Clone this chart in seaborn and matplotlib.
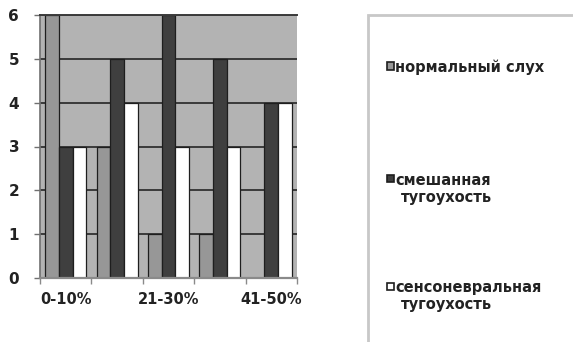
import matplotlib
matplotlib.use("Agg")
import matplotlib.pyplot as plt
from matplotlib.patches import Rectangle
import seaborn as sns
import pandas as pd

# Hearing-loss grade groups and number of cases per hearing status
categories = ["0-10%", "11-20%", "21-30%", "31-40%", "41-50%"]
normal = [6, 3, 1, 1, 0]
mixed = [3, 5, 6, 5, 4]
sensorineural = [3, 4, 3, 3, 4]

series_names = ["нормальный слух", "смешанная тугоухость", "сенсоневральная тугоухость"]
legend_lines = [["нормальный слух"], ["смешанная", "тугоухость"], ["сенсоневральная", "тугоухость"]]
colors = ["#979797", "#3f3f3f", "#ffffff"]

df = pd.DataFrame({
    "group": categories * 3,
    "count": normal + mixed + sensorineural,
    "status": [series_names[0]] * 5 + [series_names[1]] * 5 + [series_names[2]] * 5,
})

sns.set_theme(style="white")
plt.rcParams["font.family"] = ["DejaVu Sans"]

fig = plt.figure(figsize=(5.73, 3.42), dpi=100)
ax = fig.add_axes([40 / 573, 1 - 278 / 342, 257 / 573, 263 / 342])
ax.set_facecolor("#b3b3b3")

palette = dict(zip(series_names, colors))
sns.barplot(data=df, x="group", y="count", hue="status", order=categories,
            hue_order=series_names, palette=palette, width=0.8,
            edgecolor="#1e1e1e", linewidth=0.9, saturation=1, legend=False, ax=ax)

ax.set_ylim(0, 6)
ax.set_xlim(-0.5, len(categories) - 0.5)
ax.set_axisbelow(True)
ax.yaxis.grid(True, color="#3a3a3a", linewidth=1.4)
ax.xaxis.grid(False)

ax.set_yticks(range(0, 7))
ax.set_yticklabels([str(v) for v in range(0, 7)], fontsize=11, fontweight="bold",
                   color="#222222")
ax.tick_params(axis="y", left=True, length=4, width=1, color="#707070", pad=11)

# Only every other group label fits under the axis
ax.set_xticks(range(len(categories)))
ax.set_xticklabels([c if i % 2 == 0 else "" for i, c in enumerate(categories)],
                   fontsize=10.5, fontweight="bold", color="#222222")
ax.set_xticks([i - 0.5 for i in range(len(categories) + 1)], minor=True)
ax.tick_params(axis="x", which="major", length=0, pad=10)
ax.tick_params(axis="x", which="minor", bottom=True, length=4, width=1, color="#8a8a8a")
ax.set_xlabel("")
ax.set_ylabel("")

ax.spines["right"].set_visible(False)
ax.spines["top"].set_color("#3a3a3a")
ax.spines["top"].set_linewidth(1.4)
ax.spines["left"].set_color("#707070")
ax.spines["bottom"].set_color("#8a8a8a")
ax.spines["left"].set_linewidth(1.2)
ax.spines["bottom"].set_linewidth(1.6)

# Legend panel running off the right and bottom edges
fig.patches.append(Rectangle((368 / 573, -0.1), 0.5, 1.1 - 15 / 342,
                             transform=fig.transFigure, facecolor="white",
                             edgecolor="#c8c8c8", linewidth=2, zorder=0))

entry_centers = [66, 179, 286]
for lines, color, yc in zip(legend_lines, colors, entry_centers):
    fig.patches.append(Rectangle((387 / 573, 1 - (yc + 3.5) / 342), 7 / 573, 7 / 342,
                                 transform=fig.transFigure, facecolor=color,
                                 edgecolor="#1e1e1e", linewidth=1.2))
    for k, line in enumerate(lines):
        x0 = 395 if k == 0 else 401
        fig.text(x0 / 573, 1 - (yc + 17 * k) / 342, line, fontsize=10.5,
                 fontweight="bold", va="center_baseline", ha="left", color="#222222")

fig.savefig("out.png", dpi=100)
